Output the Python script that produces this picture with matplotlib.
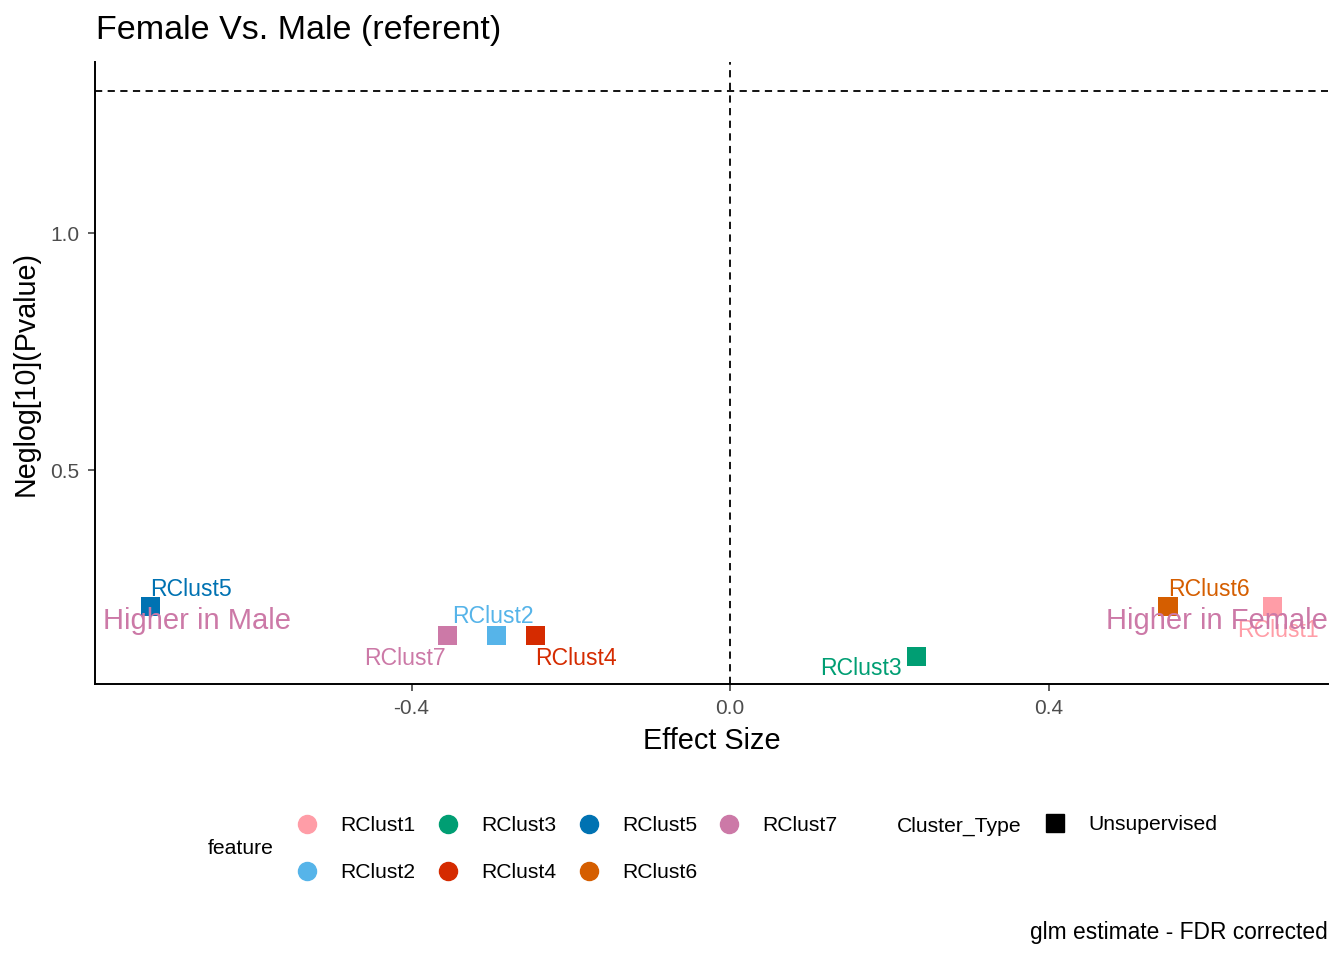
import matplotlib.pyplot as plt
from matplotlib.lines import Line2D
from matplotlib.ticker import MultipleLocator

plt.rcParams['font.family'] = ['Liberation Sans', 'DejaVu Sans']
plt.rcParams['axes.unicode_minus'] = False

# data
features = ["RClust1", "RClust2", "RClust3", "RClust4", "RClust5", "RClust6", "RClust7"]
effect = [0.681, -0.293, 0.234, -0.244, -0.728, 0.550, -0.355]
neglogp = [0.212, 0.150, 0.106, 0.150, 0.212, 0.212, 0.150]
colors = ["#FF9DA7", "#56B4E9", "#009E73", "#D52B00", "#0072B2", "#D55E00", "#CC79A7"]

# label offsets (pixels from the point, text centre)
label_off = {"RClust1": (6, -24), "RClust2": (-4, 19), "RClust3": (-55, -12),
             "RClust4": (40, -23), "RClust5": (41, 17), "RClust6": (41, 17),
             "RClust7": (-42, -23)}

fig = plt.figure(figsize=(13.44, 9.6), dpi=100)
ax = fig.add_axes([95 / 1344, 1 - 684 / 960, (1328 - 95) / 1344, (684 - 62) / 960])
ax.spines['top'].set_visible(False)
ax.spines['right'].set_visible(False)
ax.spines['left'].set_linewidth(1.4)
ax.spines['bottom'].set_linewidth(1.4)

ax.set_xlim(-0.7975, 0.751)
ax.set_ylim(0.048, 1.362)
ax.xaxis.set_major_locator(MultipleLocator(0.4))
ax.set_yticks([0.5, 1.0])
ax.tick_params(labelsize=15, colors="#333333", labelcolor="#4D4D4D", length=5, width=1.1, pad=6)

ax.axvline(0, color="black", linestyle=(0, (4, 3)), linewidth=1.3, zorder=1)
ax.axhline(1.301, color="black", linestyle=(0, (4, 3)), linewidth=1.3, zorder=1)

ax.scatter(effect, neglogp, c=colors, marker="s", s=190, zorder=3, linewidths=0)

for f, x, y, c in zip(features, effect, neglogp, colors):
    ax.annotate(f, (x, y), xytext=label_off[f], textcoords="offset pixels",
                ha="center", va="center", color=c, fontsize=16.6, zorder=4)

ax.text(-0.669, 0.182, "Higher in Male", color="#CC79A7", fontsize=21,
        ha="center", va="center", zorder=5)
ax.text(0.612, 0.182, "Higher in Female", color="#CC79A7", fontsize=21,
        ha="center", va="center", zorder=5)

ax.set_xlabel("Effect Size", fontsize=20.8, labelpad=6)
ax.set_ylabel("Neglog[10](Pvalue)", fontsize=20.6, labelpad=8)
fig.text(96 / 1344, 1 - 30 / 960, "Female Vs. Male (referent)", fontsize=24.5,
         ha="left", va="center")
fig.text(1328 / 1344, 1 - 933 / 960, "glm estimate - FDR corrected", fontsize=16.4,
         ha="right", va="center")

# legends
handles = [Line2D([], [], marker="o", linestyle="", color=c, markersize=13) for c in colors]
fig.text(208 / 1344, 1 - 849 / 960, "feature", fontsize=15.2, ha="left", va="center")
fig.legend(handles, features, ncol=4, loc="center left", frameon=False,
           bbox_to_anchor=(296.5 / 1344, 1 - 849 / 960), fontsize=15.2,
           handlelength=1.0, handletextpad=1.07, columnspacing=1.04,
           labelspacing=1.32, borderpad=0, borderaxespad=0)

fig.text(897 / 1344, 1 - 826 / 960, "Cluster_Type", fontsize=15.2, ha="left", va="center")
sq = [Line2D([], [], marker="s", linestyle="", color="black", markersize=13)]
fig.legend(sq, ["Unsupervised"], loc="center left", frameon=False,
           bbox_to_anchor=(1044.5 / 1344, 1 - 825 / 960), fontsize=15.2,
           handlelength=1.0, handletextpad=1.07, borderpad=0, borderaxespad=0)

fig.savefig("out.png", dpi=100)
